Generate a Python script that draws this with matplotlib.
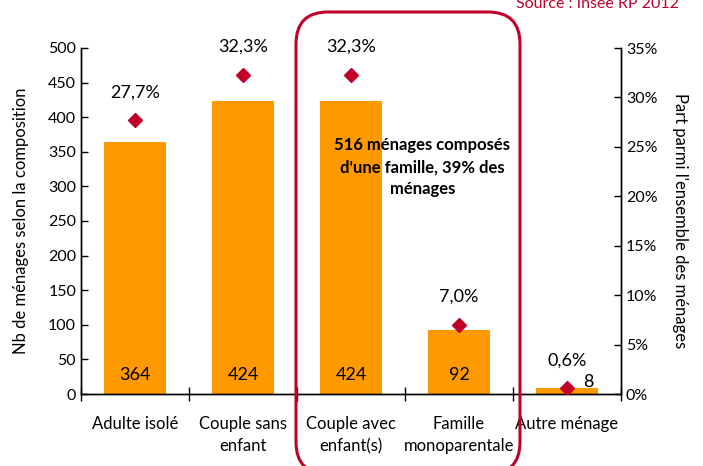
import matplotlib
matplotlib.use("Agg")
import matplotlib.pyplot as plt
from matplotlib.patches import FancyBboxPatch
from matplotlib.transforms import IdentityTransform
import numpy as np

plt.rcParams['font.family'] = ['Lato', 'DejaVu Sans']
plt.rcParams['font.size'] = 11.5

# data
categories = ["Adulte isolé", "Couple sans\nenfant", "Couple avec\nenfant(s)",
              "Famille\nmonoparentale", "Autre ménage"]
nb_menages = [364, 424, 424, 92, 8]
part_pct = [27.7, 32.3, 32.3, 7.0, 0.6]
pct_labels = ["27,7%", "32,3%", "32,3%", "7,0%", "0,6%"]

orange = '#FF9900'
red = '#C0002A'

fig = plt.figure(figsize=(7.03, 4.66), dpi=100)
ax1 = fig.add_axes([81 / 703, 72 / 466, 540 / 703, 346 / 466])
ax2 = ax1.twinx()

x = np.arange(len(categories))
ax1.bar(x, nb_menages, width=0.57, color=orange, zorder=2)
ax1.set_xlim(-0.5, len(categories) - 0.5)
ax1.set_ylim(0, 500)
ax1.set_yticks(range(0, 501, 50))
ax1.set_xticks(np.arange(-0.5, len(categories), 1.0))
ax1.set_xticklabels([])
ax1.set_xticks(x, minor=True)
ax1.set_xticklabels(categories, minor=True, fontsize=12, linespacing=1.45)
ax1.tick_params(axis='x', which='major', direction='inout', length=10, width=1)
ax1.tick_params(axis='x', which='minor', length=0, pad=16)
ax1.tick_params(axis='y', direction='in', length=5, width=1)
ax1.set_ylabel("Nb de ménages selon la composition", labelpad=14, fontsize=12)

for i, v in enumerate(nb_menages):
    if v > 50:
        ax1.text(x[i], 27, str(v), ha='center', va='center', fontsize=13, zorder=3)
    else:
        ax1.text(x[i] + 0.2, v + 9, str(v), ha='center', va='center', fontsize=13, zorder=3)

ax2.set_ylim(0, 35)
ax2.set_yticks(range(0, 36, 5))
ax2.set_yticklabels([f"{t}%" for t in range(0, 36, 5)])
ax2.tick_params(axis='y', direction='in', length=5, width=1)
ax2.plot(x, part_pct, linestyle='none', marker='D', ms=7, color=red, zorder=4)
for i, p in enumerate(part_pct):
    ax2.annotate(pct_labels[i], (x[i], p), xytext=(0, 20), textcoords='offset points',
                 ha='center', va='center', fontsize=13)
ax2.set_ylabel("Part parmi l'ensemble des ménages", rotation=270, labelpad=22, fontsize=12)

for a in (ax1, ax2):
    a.spines['top'].set_visible(False)
    for s in ('left', 'right', 'bottom'):
        a.spines[s].set_linewidth(1)
        a.spines[s].set_color('black')

ax1.text(2.66, 371, "516 ménages composés\nd'une famille, 39% des\nménages",
         ha='center', va='top', fontsize=12, fontweight='bold', linespacing=1.45, zorder=5)

# rounded frame around the families
box = FancyBboxPatch((296, -8), 224, 462, boxstyle="round,pad=0,rounding_size=32",
                     transform=IdentityTransform(), fill=False, edgecolor=red,
                     linewidth=2.2, zorder=10)
fig.add_artist(box)

fig.text(679 / 703, 1.0 + 3 / 466, "Source : Insee RP 2012", ha='right', va='top',
         color=red, fontsize=11.5)

fig.savefig("out.png", dpi=100)
